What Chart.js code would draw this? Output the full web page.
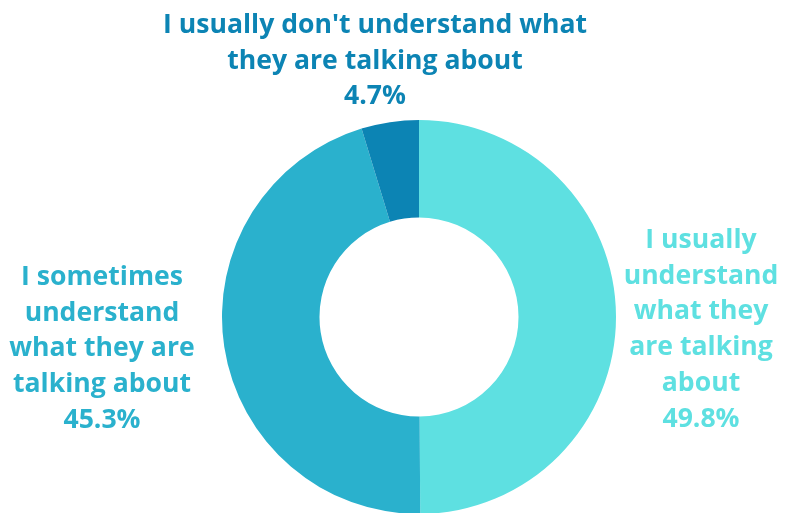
<!DOCTYPE html>
<html>
<head>
<meta charset="utf-8">
<script src="https://cdn.jsdelivr.net/npm/chart.js@4/dist/chart.umd.min.js"></script>
<style>
  html, body { margin: 0; padding: 0; background: #ffffff; }
  #wrap { width: 791px; height: 513px; }
</style>
</head>
<body>
<div id="wrap"><canvas id="donut" width="791" height="513"></canvas></div>
<script>
// answers, each already split into the lines it is printed on
const categories = [
    ['I usually', 'understand', 'what they', 'are talking', 'about'],
    ['I sometimes', 'understand', 'what they are', 'talking about'],
    ["I usually don't understand what", 'they are talking about']
];
const shares = [49.8, 45.3, 4.7];
const sliceColors = ['#5ee0e1', '#2ab1cd', '#0c84b4'];

// where each label block sits (centre x, first baseline y)
const labelSpots = [
    { x: 701, y: 248 },
    { x: 102, y: 285 },
    { x: 375, y: 33 }
];
const lineGap = 35.7;

const sliceLabels = {
    id: 'sliceLabels',
    afterDraw(chart) {
        const ctx = chart.ctx;
        ctx.save();
        ctx.font = 'bold 26.6px "Open Sans"';
        ctx.textAlign = 'center';
        ctx.textBaseline = 'alphabetic';
        chart.data.labels.forEach((lines, i) => {
            const spot = labelSpots[i];
            const all = lines.concat([chart.data.datasets[0].data[i].toFixed(1) + '%']);
            ctx.fillStyle = sliceColors[i];
            all.forEach((txt, k) => {
                ctx.fillText(txt, spot.x, spot.y + k * lineGap);
            });
        });
        ctx.restore();
    }
};

new Chart(document.getElementById('donut'), {
    type: 'doughnut',
    data: {
        labels: categories,
        datasets: [{
            data: shares,
            backgroundColor: sliceColors,
            borderWidth: 0
        }]
    },
    options: {
        responsive: false,
        animation: false,
        radius: 197,
        cutout: 99,
        layout: { padding: { left: 47, right: 0, top: 121, bottom: 0 } },
        plugins: {
            legend: { display: false },
            tooltip: { enabled: false }
        }
    },
    plugins: [sliceLabels]
});
</script>
</body>
</html>
